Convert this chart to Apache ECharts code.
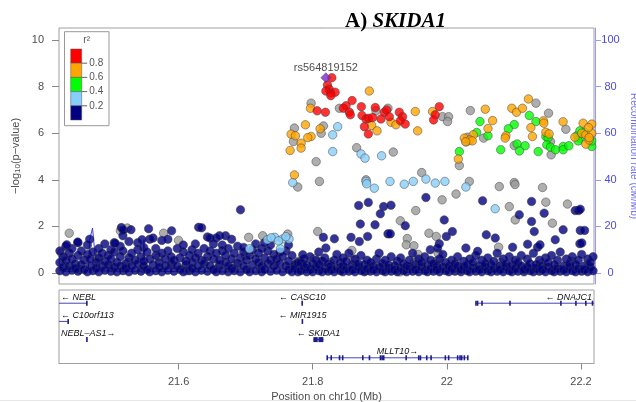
<!DOCTYPE html>
<html>
<head>
<meta charset="utf-8">
<script src="https://cdn.jsdelivr.net/npm/echarts@6/dist/echarts.min.js"></script>
<style>
  html, body { margin: 0; padding: 0; background: #fff; }
  #chart { width: 636px; height: 402px; }
</style>
</head>
<body>
<div id="chart"></div>
<script>
// ---- axes ----
const posRange = [21.4217, 22.2194];          // Mb on chr10
const logpRange = [-0.471, 10.514];
const rateRange = [-4.71, 105.14];
const posTicks = [21.6, 21.8, 22.0, 22.2];
const logpTicks = [0, 2, 4, 6, 8, 10];
const rateTicks = [0, 20, 40, 60, 80, 100];

// ---- LD legend ----
const ldColors = ['#FF0000', '#FFA500', '#00FF00', '#87CEFA', '#000080'];
const ldBreaks = ['0.8', '0.6', '0.4', '0.2'];
const naColor = '#9a9a9a';
const indexColor = '#7D26CD';

// ---- index SNP ----
const indexSnp = { name: 'rs564819152', pos: 21.8196, logp: 8.38 };

// ---- SNPs by r2 bin: [position (Mb), -log10 p] ----
const snpRed = [
  [21.8285,8.38],[21.8220,8.07],[21.8245,7.89],[21.8196,7.81],[21.8270,7.72],[21.8334,7.76],[21.8270,7.61],
  [21.8066,6.96],[21.8189,6.90],[21.8497,7.18],[21.8457,7.07],[21.8587,7.40],[21.8547,6.90],[21.8561,6.79],
  [21.8725,7.14],[21.8933,7.10],[21.8735,6.76],[21.8795,6.61],[21.8834,6.64],[21.8894,6.67],[21.8770,6.28],
  [21.8829,5.97],[21.9018,6.61],[21.9068,6.90],[21.9102,7.00],[21.9142,6.71],[21.9291,6.90],[21.9340,6.71],
  [21.9306,6.53],[21.9380,6.39],[21.9887,7.14],[21.9827,6.79],[21.9802,6.57]
];
const snpOrange = [
  [21.8844,7.81],[21.7966,7.07],[21.8879,6.33],[21.8959,6.10],[21.9167,6.47],[21.9241,6.36],[21.9529,6.93],
  [21.9564,6.10],[21.9787,6.93],[21.7891,6.36],[21.8110,6.19],[21.7976,5.86],[21.7926,5.81],[21.7678,5.96],
  [21.7742,5.89],[21.7827,5.57],[21.7827,5.36],[21.7663,5.26],[21.7727,4.21],[22.0260,5.79],[22.0171,4.89],
  [22.0573,7.03],[22.0682,6.54],[22.0613,6.20],[22.0394,5.93],[22.0344,5.71],[22.0379,5.67],[22.0280,5.63],
  [22.0969,7.07],[22.1038,6.90],[22.1127,7.07],[22.1216,7.47],[22.1440,6.53],[22.1446,6.43],[22.1253,6.24],
  [22.0880,5.89],[22.0870,5.79],[22.1276,5.86],[22.1733,6.49],[22.1476,6.04],[22.1525,5.97],[22.1908,5.83],
  [22.2012,6.00],[22.2072,5.93],[22.2072,5.53],[22.2121,5.71],[22.2161,6.00],[22.2032,6.43],[22.2161,6.39],
  [22.2111,6.24],[22.2121,5.81]
];
const snpGreen = [
  [22.0186,5.21],[22.0494,6.50],[22.0444,6.03],[22.0613,5.89],[22.1229,6.76],[22.1328,6.50],[22.1005,6.37],
  [22.0916,6.19],[22.1476,5.86],[22.1510,5.81],[22.1491,5.50],[22.1047,5.54],[22.1166,5.46],[22.1082,5.24],
  [22.0803,5.29],[22.1362,5.21],[22.1545,5.40],[22.1619,5.29],[22.1734,5.43],[22.1734,5.29],[22.1819,5.46],
  [22.1943,5.90],[22.1983,5.79],[22.1958,5.67],[22.2161,5.43],[22.1983,6.10],[22.2057,6.04],[22.2161,5.67]
];
const snpLightBlue = [
  [21.8372,6.28],[21.8298,5.93],[21.8298,5.21],[21.8720,5.11],[21.8780,4.93],[21.9027,5.03],[21.7702,3.88],
  [21.8795,3.93],[21.8804,3.83],[21.8918,3.64],[21.9152,3.93],[21.9365,3.81],[21.9499,3.93],[21.9688,4.03],
  [21.9827,3.86],[21.9971,3.93],[22.0284,3.69],[22.0720,2.76],
  [21.7325,1.43],[21.7434,1.53],[21.7549,1.46],[21.7647,1.46],[21.7057,1.04],[21.7519,1.04],
  [21.7380,1.51],[21.7600,1.56],[21.7489,1.38]
];
const snpGray = [
  [21.7976,7.29],[21.8398,7.07],[21.8943,6.96],[21.9122,7.07],[21.9936,6.71],[22.0026,6.71],[22.0011,6.50],
  [22.0350,6.97],[21.8160,6.31],[21.8126,6.00],[21.7727,6.22],[21.7712,5.64],[21.8655,5.38],[21.9201,5.19],
  [21.8051,4.78],[21.7777,3.69],[21.8100,3.93],[21.8795,4.00],[21.9625,4.31],[22.0335,3.93],[22.0137,3.39],
  [21.9929,3.14],[21.9536,2.68],[22.0782,3.71],[22.1005,3.88],[22.1016,3.80],[22.0931,2.85],[22.1427,3.67],
  [22.1476,3.04],[22.1019,2.28],[22.1574,2.14],[22.1798,2.96],[22.0310,5.83],[22.0290,5.63],[22.0548,5.79],
  [22.0186,4.61],[22.1328,7.29],[22.1516,6.86],[22.1774,6.17],[22.1545,5.64],[22.1005,5.47],[22.1555,5.07],
  [21.9306,2.24],[21.8075,1.78],[21.9410,1.48],[21.9733,1.71],[21.9842,1.57],[21.9395,1.21],[21.9509,1.17],
  [22.0772,1.11],[21.8584,0.97],
  [21.4370,1.71],[21.5132,1.81],[21.5236,1.93],[21.5777,1.71],[21.6000,1.40],[21.7045,1.53],[21.7254,1.60],
  [21.7628,1.67],[21.4253,0.86],[21.7777,0.50],[21.7802,0.48],
  [21.4300,0.30],[21.4520,0.15],[21.4780,0.60],[21.5000,0.25],[21.5250,0.45],[21.5470,0.20],[21.5700,0.70],
  [21.5900,0.35],[21.6120,0.10],[21.6400,0.50],[21.6600,0.25],[21.6850,0.40],[21.7000,0.75],[21.7220,0.20],
  [21.7450,0.45],[21.7750,0.30],[21.7900,0.20],[21.8030,0.62],[21.8260,0.45],[21.8420,0.25],[21.8610,0.55],
  [21.8670,0.30],[21.8800,0.10],[21.9030,0.25],[21.9300,0.05],[21.9510,0.45],[21.9570,0.80],[21.9600,0.35],
  [21.9820,0.30],[21.9860,0.55],[21.9870,0.85],[21.9880,0.30],[22.0100,0.20],[22.0370,0.35],[22.0550,0.20],
  [22.0800,0.45],[22.1000,0.30],[22.1180,0.25],[22.1400,0.40],[22.1630,0.20],[22.1850,0.50],[22.2120,0.30]
];
const snpNavy = [
  [21.9688,3.24],[22.0533,3.10],[22.1263,3.07],[22.1080,2.50],[22.1451,2.57],[22.1263,2.21],[22.1914,2.68],
  [22.1964,2.68],[22.1989,2.74],[22.1734,1.86],[22.1989,1.83],[22.2054,1.83],[22.1303,1.78],[21.8685,2.90],
  [21.8829,3.03],[21.9057,2.85],[21.9167,2.91],[21.9008,2.54],[21.8710,2.10],[21.8929,2.07],[21.9380,2.03],
  [21.9961,2.28],[21.9122,1.68],[21.9157,1.68],[21.8159,1.53],[21.8323,1.47],[21.8571,1.53],[21.8819,1.57],
  [21.8695,1.35],[22.0082,1.78],[21.9992,1.57],[22.0588,1.64],[22.0722,1.50],[21.8196,1.07],[21.9753,1.00],
  [21.9887,1.26],[21.9862,1.07],[22.0284,1.07],[22.0459,0.93],[22.0981,1.11],[22.1204,1.24],[22.1353,1.11],
  [22.1389,1.21],[22.1616,1.43],[22.1983,1.26],[22.2012,1.29],[21.7851,0.78],[21.6923,2.71],
  [21.5147,1.95],[21.5176,1.85],[21.5290,1.86],[21.5553,1.90],[21.5896,1.81],[21.6299,1.96],[21.6344,1.94],
  [21.4675,1.45],[21.4496,1.33],[21.4332,1.21],[21.5053,1.28],[21.5455,1.43]
];
// dense low band, grouped by position column
const navyBand = [
  [21.423,[0.10,0.45,0.95]],[21.428,[0.25,0.70]],[21.432,[0.05,0.55,1.15]],[21.437,[0.30,0.85]],
  [21.441,[0.12,0.60,1.05]],[21.446,[0.40,0.20]],[21.450,[0.08,0.75,1.30]],[21.455,[0.35,0.95]],
  [21.459,[0.15,0.55]],[21.464,[0.05,0.80,1.20]],[21.468,[0.30,0.60]],[21.472,[0.10,0.90]],
  [21.477,[0.45,0.20]],[21.481,[0.05,0.65,1.05]],[21.486,[0.30,0.85]],[21.490,[0.12,0.50,1.25]],
  [21.495,[0.35,0.75]],[21.499,[0.08,0.60,1.00]],[21.504,[0.25,0.90,1.30]],[21.508,[0.05,0.45]],
  [21.513,[0.30,0.70,1.15]],[21.517,[0.10,0.95,1.60]],[21.521,[0.40,0.20]],[21.526,[0.05,0.65,1.35]],
  [21.530,[0.30,0.85]],[21.535,[0.12,0.55]],[21.539,[0.40,1.00,1.30]],[21.544,[0.08,0.70]],
  [21.548,[0.30,0.50,1.10]],[21.553,[0.15,0.90]],[21.557,[0.05,0.60,1.45]],[21.562,[0.35,1.50]],
  [21.566,[0.10,0.75,1.05]],[21.571,[0.45,0.25]],[21.575,[0.05,0.85,1.40]],[21.580,[0.30,0.60]],
  [21.584,[0.12,0.95,1.45]],[21.589,[0.40,0.70]],[21.593,[0.08,0.55]],[21.598,[0.30,1.05]],
  [21.602,[0.15,0.65]],[21.607,[0.05,0.90,1.20]],[21.611,[0.35,0.50]],[21.616,[0.10,0.75]],
  [21.620,[0.45,1.00,0.20]],[21.625,[0.05,0.65,1.25]],[21.629,[0.30,0.85]],[21.634,[0.12,0.55]],
  [21.638,[0.40,1.05]],[21.643,[0.08,0.70,1.55]],[21.647,[0.30,0.95,1.50]],[21.652,[0.15,0.60,1.25]],
  [21.656,[0.05,0.85,1.50]],[21.661,[0.35,0.55,1.60]],[21.665,[0.10,0.95,1.20]],[21.670,[0.45,0.75,1.60]],
  [21.674,[0.05,0.30,1.05]],[21.679,[0.60,0.20,1.45]],[21.683,[0.10,0.85]],[21.688,[0.40,1.15]],
  [21.692,[0.05,0.65]],[21.697,[0.30,0.90,1.10]],[21.701,[0.15,0.55]],[21.706,[0.05,0.75]],
  [21.710,[0.35,1.00]],[21.715,[0.10,0.60,1.25]],[21.719,[0.45,0.85]],[21.724,[0.05,0.30,1.05]],
  [21.728,[0.65,0.15,1.30]],[21.733,[0.40,0.95]],[21.737,[0.08,0.55,1.20]],[21.742,[0.30,0.80]],
  [21.746,[0.12,0.60]],[21.751,[0.40,0.90]],[21.755,[0.05,0.70]],[21.760,[0.30,0.95]],
  [21.764,[0.15,0.50,1.20]],[21.769,[0.05,0.75]],[21.773,[0.35,0.20]],[21.778,[0.05,0.45]],
  [21.782,[0.10,0.45]],[21.787,[0.25,0.60]],[21.791,[0.05,0.35]],[21.796,[0.15,0.70]],
  [21.800,[0.05,0.40]],[21.805,[0.25,0.55]],[21.809,[0.10,0.35,0.90]],[21.814,[0.05,0.50]],
  [21.818,[0.20,0.65]],[21.823,[0.08,0.40]],[21.827,[0.30,0.15]],[21.832,[0.05,0.55]],
  [21.836,[0.20,0.80]],[21.841,[0.10,0.45]],[21.845,[0.05,0.30,0.65]],[21.850,[0.20,0.50]],
  [21.854,[0.08,0.85]],[21.859,[0.35,0.15]],[21.863,[0.05,0.60]],[21.868,[0.25,0.40]],
  [21.872,[0.10,0.75]],[21.877,[0.05,0.35]],[21.881,[0.20,0.55]],[21.886,[0.08,0.45]],
  [21.890,[0.30,0.15]],[21.895,[0.05,0.60]],[21.899,[0.25,0.85]],[21.904,[0.10,0.40]],
  [21.908,[0.05,0.55]],[21.913,[0.20,0.35]],[21.917,[0.08,0.70]],[21.922,[0.30,0.15]],
  [21.926,[0.05,0.50]],[21.931,[0.20,0.65]],[21.935,[0.10,0.40]],[21.940,[0.05,0.30]],
  [21.944,[0.25,0.55]],[21.949,[0.08,0.85]],[21.953,[0.35,0.15]],[21.958,[0.05,0.60]],
  [21.962,[0.25,0.45]],[21.967,[0.10,0.70]],[21.971,[0.05,0.35]],[21.976,[0.20,0.55]],
  [21.980,[0.08,0.40]],[21.985,[0.30,0.15]],[21.989,[0.05,0.60]],[21.994,[0.25,0.80]],
  [21.998,[0.10,0.45]],[22.003,[0.05,0.30]],[22.007,[0.20,0.55]],[22.012,[0.08,0.40]],
  [22.016,[0.30,0.70]],[22.021,[0.05,0.15]],[22.025,[0.25,0.50]],[22.030,[0.10,0.35]],
  [22.034,[0.05,0.60]],[22.039,[0.20,0.45]],[22.043,[0.08,0.75]],[22.048,[0.30,0.15]],
  [22.052,[0.05,0.55]],[22.057,[0.25,0.40]],[22.061,[0.10,0.65]],[22.066,[0.05,0.35]],
  [22.070,[0.20,0.50]],[22.075,[0.08,0.85]],[22.079,[0.30,0.15]],[22.084,[0.05,0.60]],
  [22.088,[0.25,0.40]],[22.093,[0.10,0.70]],[22.097,[0.05,0.35]],[22.102,[0.20,0.55]],
  [22.106,[0.08,0.45]],[22.111,[0.30,0.75]],[22.115,[0.05,0.15]],[22.120,[0.25,0.60]],
  [22.124,[0.10,0.40]],[22.129,[0.05,0.85]],[22.133,[0.20,0.35]],[22.138,[0.08,0.55]],
  [22.142,[0.30,0.15]],[22.147,[0.05,0.65]],[22.151,[0.25,0.45]],[22.156,[0.10,0.75]],
  [22.160,[0.05,0.35]],[22.165,[0.20,0.55]],[22.169,[0.08,0.90]],[22.174,[0.30,0.15]],
  [22.178,[0.05,0.60]],[22.183,[0.25,0.40]],[22.187,[0.10,0.70]],[22.192,[0.05,0.35]],
  [22.196,[0.20,0.55]],[22.201,[0.08,0.80]],[22.205,[0.30,0.15]],[22.210,[0.05,0.60]],
  [22.214,[0.25,0.45]],[22.218,[0.10,0.70]]
];

// ---- recombination rate (cM/Mb) ----
const recombRate = [
  [21.4217,10.0],[21.4232,1.0],[21.4400,0.6],[21.4600,0.8],[21.4655,1.0],[21.4672,14.0],[21.4717,19.3],
  [21.4760,6.0],[21.4790,1.0],[21.5200,0.7],[21.5465,0.8],[21.5476,9.0],[21.5483,14.3],[21.5491,8.0],
  [21.5505,0.9],[21.6000,0.6],[21.6600,0.5],[21.7200,0.4],[21.7800,0.5],[21.8300,0.3],[21.9000,0.4],
  [21.9600,0.3],[22.0200,0.6],[22.0800,0.4],[22.1400,0.5],[22.2194,0.4]
];

// ---- genes: start/end in Mb, track row, strand, exons ----
const genes = [
  { name: 'NEBL', start: 21.068, end: 21.4634, row: 1, strand: -1, exons: [[21.4625, 21.4640]] },
  { name: 'CASC10', start: 21.7836, end: 21.7850, row: 1, strand: -1, exons: [[21.7836, 21.7850]] },
  { name: 'DNAJC1', start: 22.0433, end: 22.352, row: 1, strand: -1,
    exons: [[22.0433,22.0436],[22.0457,22.0460],[22.0523,22.0526],[22.0940,22.0943],[22.1699,22.1702],
            [22.1923,22.1926],[22.2065,22.2079],[22.2170,22.2173]] },
  { name: 'C10orf113', start: 21.405, end: 21.4355, row: 2, strand: -1, exons: [[21.4350, 21.4357]] },
  { name: 'MIR1915', start: 21.7844, end: 21.7848, row: 2, strand: -1, exons: [[21.7844, 21.7848]] },
  { name: 'NEBL\u2013AS1', start: 21.4626, end: 21.4640, row: 3, strand: 1, exons: [[21.4626, 21.4640]] },
  { name: 'SKIDA1', start: 21.8010, end: 21.8159, row: 3, strand: -1, exons: [[21.8010, 21.8075], [21.8085, 21.8159]] },
  { name: 'MLLT10', start: 21.8214, end: 22.0314, row: 4, strand: 1,
    exons: [[21.8214,21.8218],[21.8274,21.8278],[21.8398,21.8402],[21.8445,21.8449],[21.8745,21.8749],
            [21.8844,21.8848],[21.9008,21.9012],[21.9033,21.9037],[21.9057,21.9061],[21.9391,21.9395],
            [21.9579,21.9583],[21.9604,21.9608],[21.9698,21.9702],[21.9763,21.9767],[21.9976,21.9980],
            [22.0025,22.0029],[22.0159,22.0163],[22.0195,22.0199],[22.0219,22.0223],[22.0259,22.0263],
            [22.0310,22.0314]] }
];

const bandPoints = [];
navyBand.forEach(col => col[1].forEach(v => bandPoints.push([col[0], v])));

const FONT = '"Liberation Sans", Arial, sans-serif';
const axisGray = '#4d4d4d';
const rateBlue = '#4a4ae6';

const measureCtx = document.createElement('canvas').getContext('2d');
function textWidth(s, font) { measureCtx.font = font; return measureCtx.measureText(s).width; }

function renderGene(params, api) {
  const g = genes[api.value(3)];
  const cs = params.coordSys;
  const y = api.coord([g.start, g.row])[1];
  const x0 = Math.max(api.coord([g.start, g.row])[0], cs.x);
  const x1 = Math.min(api.coord([g.end, g.row])[0], cs.x + cs.width);
  const children = [];
  if (x1 - x0 > 0.5) {
    children.push({ type: 'line', shape: { x1: x0, y1: y, x2: x1, y2: y },
      style: { stroke: '#4646b4', lineWidth: 1 } });
  }
  g.exons.forEach(e => {
    let a = api.coord([e[0], g.row])[0], b = api.coord([e[1], g.row])[0];
    if (b - a < 1.6) { const m = (a + b) / 2; a = m - 0.8; b = m + 0.8; }
    children.push({ type: 'rect', shape: { x: a, y: y - 2.5, width: b - a, height: 5 },
      style: { fill: '#1c1c8c' } });
  });
  const label = g.strand < 0 ? '\u2190 ' + g.name : g.name + '\u2192';
  const font = 'italic 9px ' + FONT;
  const w = textWidth(label, font);
  let cx = api.coord([(g.start + g.end) / 2, g.row])[0];
  cx = Math.min(Math.max(cx, cs.x + 2 + w / 2), cs.x + cs.width - 2 - w / 2);
  children.push({ type: 'text', x: cx, y: y - 6,
    style: { text: label, fontSize: 9, fontStyle: 'italic', fontFamily: FONT, fill: '#111',
      align: 'center', verticalAlign: 'middle' } });
  return { type: 'group', children };
}

function snpSeries(data, color, z) {
  return {
    type: 'scatter', xAxisIndex: 0, yAxisIndex: 0, data, symbolSize: 8.5, z,
    itemStyle: { color, borderColor: '#3c3c3c', borderWidth: 0.6 }, silent: true
  };
}

// legend geometry
const lgX = 64.5, lgY = 31.7, segH = 14.2, barX = 70.7, barTop = 49, barW = 11;
const legendGraphics = [
  { type: 'rect', shape: { x: lgX, y: lgY, width: 44.5, height: 94 },
    style: { fill: '#fff', stroke: '#999', lineWidth: 1 } },
  { type: 'text', x: 86.7, y: 40, style: { text: 'r\u00B2', fontSize: 10, fontFamily: FONT,
    fill: '#555', align: 'center', verticalAlign: 'middle' } }
];
ldColors.forEach((c, i) => legendGraphics.push({ type: 'rect',
  shape: { x: barX, y: barTop + i * segH, width: barW, height: segH },
  style: { fill: c, stroke: '#555', lineWidth: 0.5 } }));
ldBreaks.forEach((t, i) => {
  const y = barTop + (i + 1) * segH;
  legendGraphics.push({ type: 'line', shape: { x1: barX + barW, y1: y, x2: barX + barW + 5.5, y2: y },
    style: { stroke: '#666', lineWidth: 1 } });
  legendGraphics.push({ type: 'text', x: 89.3, y, style: { text: t, fontSize: 10, fontFamily: FONT,
    fill: '#555', align: 'left', verticalAlign: 'middle' } });
});
legendGraphics.push({ type: 'line', shape: { x1: 0, y1: 400.5, x2: 636, y2: 400.5 },
  style: { stroke: '#e8e8e8', lineWidth: 1 } });

const tickFmt = v => String(Math.round(v * 10) / 10);

const chart = echarts.init(document.getElementById('chart'), null, { renderer: 'canvas' });
chart.setOption({
  animation: false,
  backgroundColor: '#fff',
  title: {
    text: '{b|A)} {i|SKIDA1}', left: 340, top: 6,
    textStyle: { fontSize: 21, fontFamily: '"Liberation Serif", serif', color: '#000',
      rich: {
        b: { fontSize: 21, fontFamily: '"Liberation Serif", serif', fontWeight: 'bold', color: '#000' },
        i: { fontSize: 21, fontFamily: '"Liberation Serif", serif', fontStyle: 'italic', color: '#000' }
      } }
  },
  grid: [
    { left: 59, top: 28, width: 535, height: 256, show: true, borderColor: '#a0a0a0', borderWidth: 1,
      outerBoundsMode: 'none', containLabel: false },
    { left: 59, top: 290, width: 535, height: 73.5, show: true, borderColor: '#a0a0a0', borderWidth: 1,
      outerBoundsMode: 'none', containLabel: false }
  ],
  xAxis: [
    { type: 'value', gridIndex: 0, min: posRange[0], max: posRange[1], show: false },
    { type: 'value', gridIndex: 1, min: posRange[0], max: posRange[1],
      axisLine: { show: true, lineStyle: { color: '#a0a0a0' } },
      axisTick: { show: true, length: 6, lineStyle: { color: '#888' }, customValues: posTicks },
      axisLabel: { customValues: posTicks, formatter: tickFmt, color: axisGray, fontSize: 11,
        fontFamily: FONT, margin: 13 },
      splitLine: { show: false },
      name: 'Position on chr10 (Mb)', nameLocation: 'middle', nameGap: 28, nameMoveOverlap: false,
      nameTextStyle: { color: axisGray, fontSize: 11, fontFamily: FONT } }
  ],
  yAxis: [
    { type: 'value', gridIndex: 0, min: logpRange[0], max: logpRange[1],
      axisLine: { show: false },
      axisTick: { show: true, length: 7, lineStyle: { color: '#888' }, customValues: logpTicks },
      axisLabel: { customValues: logpTicks, color: axisGray, fontSize: 11, fontFamily: FONT, margin: 15 },
      splitLine: { show: false },
      name: '\u2212log{sub|10}(p\u2212value)', nameLocation: 'middle', nameGap: 37, nameRotate: 90,
      nameMoveOverlap: false,
      nameTextStyle: { color: axisGray, fontSize: 11, fontFamily: FONT,
        rich: { sub: { fontSize: 8, fontFamily: FONT, color: axisGray, padding: [5, 0, 0, 0] } } } },
    { type: 'value', gridIndex: 0, position: 'right', offset: 1, min: rateRange[0], max: rateRange[1],
      axisLine: { show: true, lineStyle: { color: '#9a9af2' } },
      axisTick: { show: true, length: 6, lineStyle: { color: '#9a9af2' }, customValues: rateTicks },
      axisLabel: { customValues: rateTicks, color: rateBlue, fontSize: 11, fontFamily: FONT,
        margin: 15.5, align: 'center' },
      splitLine: { show: false },
      name: 'Recombination rate (cM/Mb)', nameLocation: 'middle', nameGap: 34, nameRotate: -90,
      nameMoveOverlap: false,
      nameTextStyle: { color: '#6e6eec', fontSize: 10, fontFamily: FONT } },
    { type: 'value', gridIndex: 1, min: 0.274, max: 4.313, inverse: true, show: false }
  ],
  graphic: legendGraphics,
  series: [
    { type: 'line', xAxisIndex: 0, yAxisIndex: 1, data: recombRate, showSymbol: false, z: 1,
      lineStyle: { color: '#3a3aff', width: 1 }, silent: true },
    snpSeries(snpGray, naColor, 2),
    snpSeries(bandPoints, ldColors[4], 3),
    snpSeries(snpNavy, ldColors[4], 3),
    snpSeries(snpLightBlue, ldColors[3], 4),
    snpSeries(snpGreen, ldColors[2], 5),
    snpSeries(snpOrange, ldColors[1], 6),
    snpSeries(snpRed, ldColors[0], 7),
    { type: 'scatter', xAxisIndex: 0, yAxisIndex: 0, z: 8, symbol: 'diamond', symbolSize: 10,
      data: [{ name: indexSnp.name, value: [indexSnp.pos, indexSnp.logp] }],
      itemStyle: { color: indexColor, borderColor: '#3c3c3c', borderWidth: 0.6 },
      label: { show: true, position: 'top', distance: -1, formatter: '{b}', color: '#222',
        fontSize: 11, fontFamily: FONT },
      silent: true },
    { type: 'custom', xAxisIndex: 1, yAxisIndex: 2, renderItem: renderGene, clip: false,
      data: genes.map((g, i) => [g.start, g.end, g.row, i]), encode: { x: [0, 1], y: 2 }, silent: true }
  ]
});
</script>
</body>
</html>
